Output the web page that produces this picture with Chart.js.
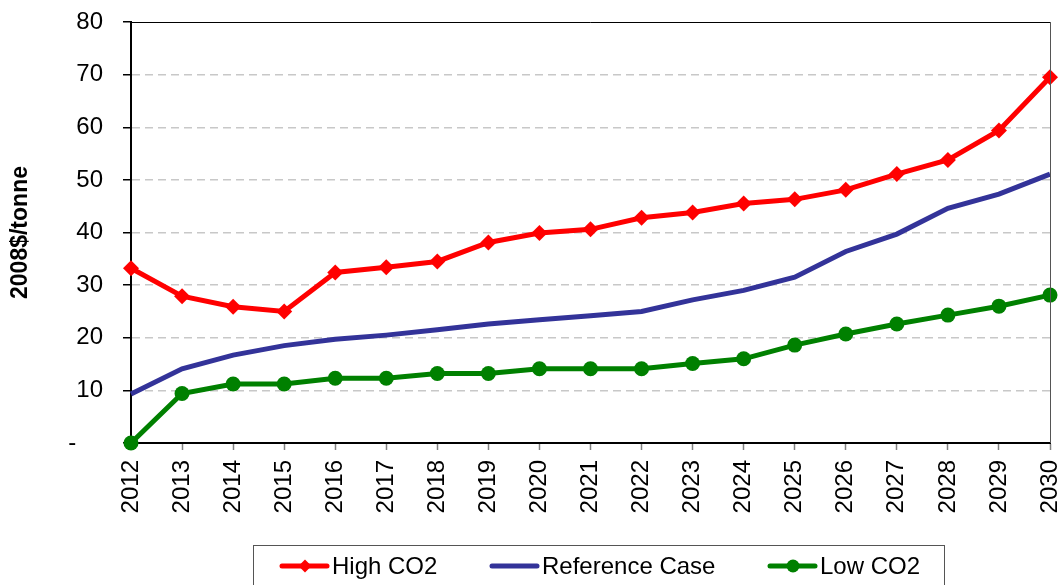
<!DOCTYPE html>
<html>
<head>
<meta charset="utf-8">
<script src="https://cdn.jsdelivr.net/npm/chart.js@4.4.1/dist/chart.umd.min.js"></script>
<style>
  html, body { margin: 0; padding: 0; background: #fff; }
  #wrap { width: 1060px; height: 585px; }
</style>
</head>
<body>
<div id="wrap"><canvas id="chart" width="1060" height="585"></canvas></div>
<script>
// carbon price paths, 2008$/tonne
const years = ["2012", "2013", "2014", "2015", "2016", "2017", "2018", "2019", "2020", "2021",
  "2022", "2023", "2024", "2025", "2026", "2027", "2028", "2029", "2030"];
const highCO2 = [33.2, 27.9, 25.9, 25.0, 32.4, 33.4, 34.5, 38.1, 39.9, 40.6,
  42.8, 43.8, 45.5, 46.3, 48.1, 51.1, 53.8, 59.4, 69.5];
const referenceCase = [9.3, 14.1, 16.7, 18.5, 19.7, 20.5, 21.5, 22.6, 23.4, 24.2,
  25.0, 27.2, 29.0, 31.5, 36.4, 39.7, 44.6, 47.3, 51.1];
const lowCO2 = [0, 9.4, 11.2, 11.2, 12.3, 12.3, 13.2, 13.2, 14.1, 14.1,
  14.1, 15.1, 16.0, 18.6, 20.7, 22.6, 24.3, 26.0, 28.1];
const yTicks = [0, 10, 20, 30, 40, 50, 60, 70, 80];

const FONT = "'Liberation Sans', Arial, sans-serif";

// box around the plot area plus the framed legend underneath
const framePlugin = {
  id: "frame",
  afterDraw(chart) {
    const { ctx, chartArea: a } = chart;
    ctx.save();
    ctx.lineWidth = 1;
    ctx.strokeStyle = "#000";
    ctx.beginPath();
    ctx.moveTo(a.left, a.top + 0.5);
    ctx.lineTo(a.right + 0.5, a.top + 0.5);
    ctx.stroke();
    ctx.strokeStyle = "#555";
    ctx.beginPath();
    ctx.moveTo(a.right + 0.5, a.top);
    ctx.lineTo(a.right + 0.5, a.bottom);
    ctx.stroke();

    // legend
    ctx.strokeStyle = "#555";
    ctx.strokeRect(253.5, 545.5, 691, 60);
    const cy = 566;
    const slots = [282, 492, 770];
    ctx.font = "24px " + FONT;
    ctx.textBaseline = "middle";
    chart.data.datasets.forEach((ds, i) => {
      const x = slots[i];
      ctx.strokeStyle = ds.borderColor;
      ctx.lineWidth = ds.borderWidth;
      ctx.lineCap = "round";
      ctx.beginPath();
      ctx.moveTo(x, cy);
      ctx.lineTo(x + 45, cy);
      ctx.stroke();
      if (ds.pointRadius > 0) {
        ctx.fillStyle = ds.borderColor;
        Chart.helpers.drawPoint(ctx, {
          pointStyle: ds.pointStyle, radius: 6.5, borderWidth: 0
        }, x + 23, cy);
      }
      ctx.fillStyle = "#000";
      ctx.fillText(ds.label, x + 50, cy + 1);
    });
    ctx.restore();
  }
};

new Chart(document.getElementById("chart").getContext("2d"), {
  type: "line",
  data: {
    labels: years,
    datasets: [
      {
        label: "High CO2",
        data: highCO2,
        borderColor: "#ff0000",
        backgroundColor: "#ff0000",
        borderWidth: 5,
        pointStyle: "rectRot",
        pointRadius: 8,
        pointBorderWidth: 0,
        clip: false
      },
      {
        label: "Reference Case",
        data: referenceCase,
        borderColor: "#333399",
        backgroundColor: "#333399",
        borderWidth: 5,
        pointRadius: 0,
        clip: false
      },
      {
        label: "Low CO2",
        data: lowCO2,
        borderColor: "#008000",
        backgroundColor: "#008000",
        borderWidth: 5,
        pointStyle: "circle",
        pointRadius: 7.5,
        pointBorderWidth: 0,
        clip: false
      }
    ]
  },
  options: {
    responsive: false,
    animation: false,
    layout: { padding: { top: 22, right: 10, left: 0, bottom: 0 } },
    plugins: {
      legend: { display: false },
      tooltip: { enabled: false }
    },
    elements: { line: { tension: 0 } },
    scales: {
      x: {
        afterFit(scale) {
          scale.height = 142;
          scale.paddingLeft = 0;
          scale.paddingRight = 0;
        },
        grid: {
          drawOnChartArea: false,
          tickLength: 7,
          tickColor: "#808080",
          tickWidth: 1.5
        },
        border: { color: "#000", width: 2 },
        ticks: {
          color: "#000",
          font: { family: FONT, size: 24 },
          minRotation: 90,
          maxRotation: 90,
          padding: 10,
          autoSkip: false
        }
      },
      y: {
        min: 0,
        max: 80,
        afterFit(scale) {
          scale.width = 131;
          scale.paddingTop = 0;
          scale.paddingBottom = 0;
        },
        afterBuildTicks(scale) { scale.ticks = yTicks.map(v => ({ value: v })); },
        grid: {
          color: (c) => (c.tick && (c.tick.value === 0 || c.tick.value === 80)) ? "rgba(0,0,0,0)" : "#c8c8c8",
          lineWidth: 1.5,
          tickLength: 8,
          tickColor: "#000",
          tickWidth: 1.5
        },
        border: { color: "#000", width: 2, dash: [8, 5] },
        ticks: {
          color: "#000",
          font: { family: FONT, size: 24 },
          padding: 20,
          callback: (v) => v === 0 ? "-    " : String(v)
        },
        title: {
          display: true,
          text: "2008$/tonne",
          color: "#000",
          font: { family: FONT, size: 23, weight: "bold" },
          padding: { top: 7, bottom: 0 }
        }
      }
    }
  },
  plugins: [framePlugin]
});
</script>
</body>
</html>
